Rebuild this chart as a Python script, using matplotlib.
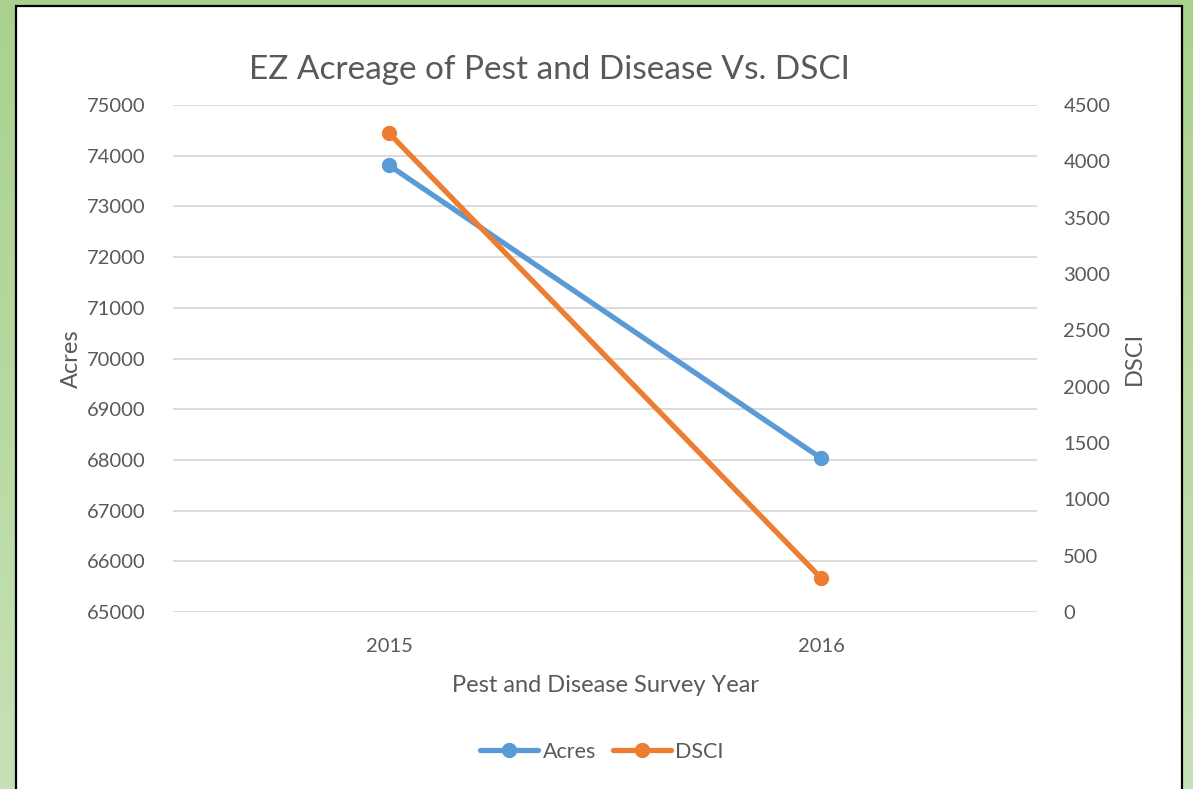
import matplotlib.pyplot as plt
import numpy as np
from matplotlib.patches import Rectangle

years = ['2015', '2016']
acres = [73810, 68035]
dsci = [4250, 302]

blue = '#5B9BD5'
orange = '#ED7D31'
grey = '#595959'

plt.rcParams['font.family'] = ['Lato', 'DejaVu Sans']

fig = plt.figure(figsize=(11.93, 7.89), dpi=100)

# green gradient background and white chart box
bg = fig.add_axes([0, 0, 1, 1], zorder=-10)
grad = np.linspace(0, 1, 256).reshape(-1, 1)
top = np.array([169, 209, 142]) / 255
bot = np.array([199, 225, 182]) / 255
img = top + (bot - top) * grad[..., None]
bg.imshow(np.repeat(img, 2, axis=1), aspect='auto', extent=[0, 1, 0, 1], origin='upper')
bg.add_patch(Rectangle((16 / 1193, -0.05), (1182 - 16) / 1193, 1.05 - 6 / 789,
                       facecolor='white', edgecolor='black', linewidth=1.6))
bg.set_xlim(0, 1)
bg.set_ylim(0, 1)
bg.axis('off')

W, H = 1193, 789
ax = fig.add_axes([173 / W, 1 - 612 / H, (1037 - 173) / W, (612 - 105) / H])
ax.patch.set_alpha(0)
ax2 = ax.twinx()

x = np.arange(len(years))
l1, = ax.plot(x, acres, color=blue, linewidth=3.8, marker='o', markersize=10,
              solid_capstyle='round', label='Acres', zorder=3)
l2, = ax2.plot(x, dsci, color=orange, linewidth=3.8, marker='o', markersize=10,
               solid_capstyle='round', label='DSCI', zorder=3)

ax.set_xlim(-0.5, 1.5)
ax.set_ylim(65000, 75000)
ax.set_yticks(np.arange(65000, 75001, 1000))
ax2.set_ylim(0, 4500)
ax2.set_yticks(np.arange(0, 4501, 500))
ax.set_xticks(x)
ax.set_xticklabels(years)

ax.grid(axis='y', color='#D9D9D9', linewidth=1.3)
ax.set_axisbelow(True)
for a in (ax, ax2):
    for s in a.spines.values():
        s.set_visible(False)
    a.tick_params(length=0, labelsize=14.5, colors=grey)
ax.tick_params(axis='y', pad=20)
ax2.tick_params(axis='y', pad=19)
ax.tick_params(axis='x', pad=19)

ax.set_ylabel('Acres', fontsize=17, color=grey, labelpad=3)
ax2.set_ylabel('DSCI', fontsize=17, color=grey, labelpad=10)
ax.set_xlabel('Pest and Disease Survey Year', fontsize=17, color=grey, labelpad=14)

fig.text(549 / W, 1 - 70 / H, 'EZ Acreage of Pest and Disease Vs. DSCI',
         fontsize=24, color=grey, ha='center', va='center')

fig.legend(handles=[l1, l2], loc='center', bbox_to_anchor=(602 / W, 1 - 752 / H),
           ncol=2, frameon=False, fontsize=15.5, labelcolor=grey,
           handlelength=2.7, handletextpad=0.2, columnspacing=0.8)

fig.savefig('out.png', dpi=100)
